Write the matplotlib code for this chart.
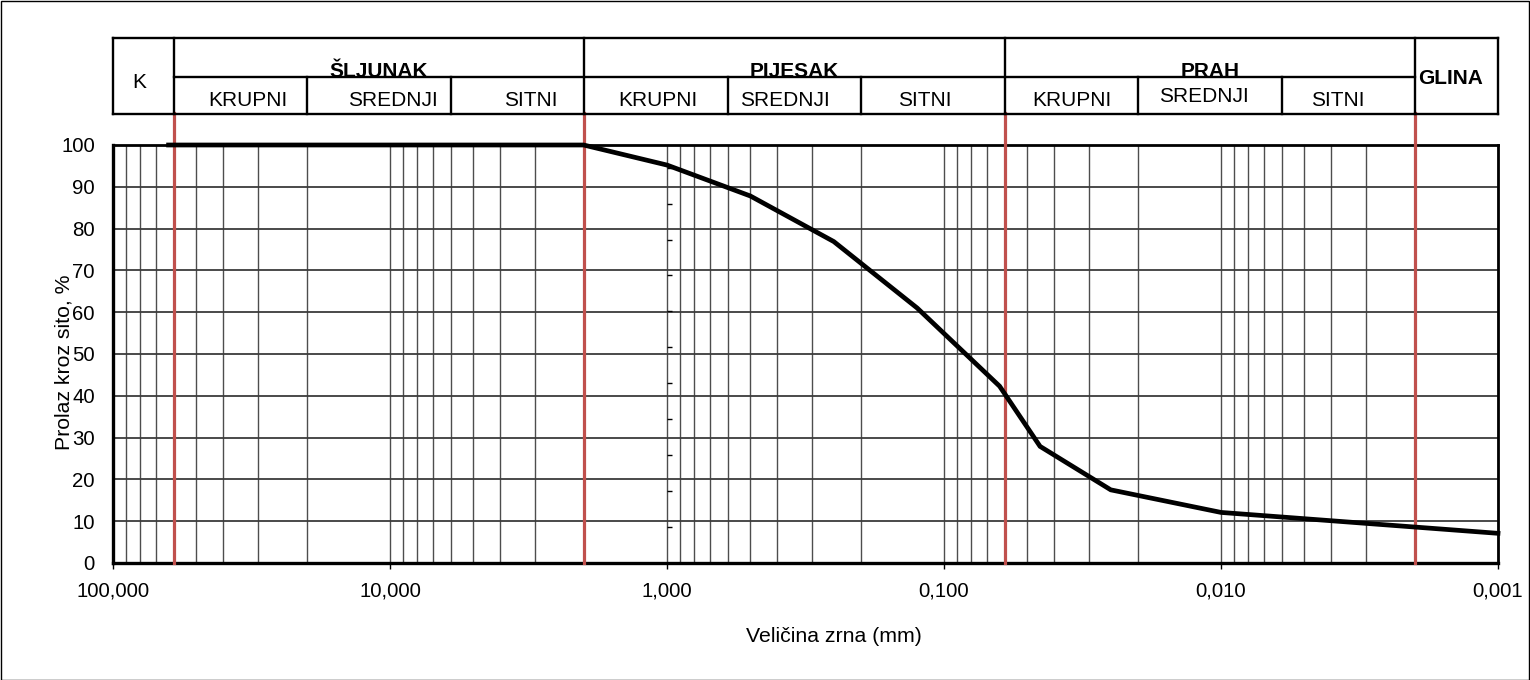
import matplotlib
matplotlib.use('Agg')
import matplotlib.pyplot as plt
import matplotlib.transforms as mtransforms
from matplotlib.patches import Rectangle
from matplotlib.ticker import FixedLocator, LogLocator, NullFormatter

plt.rcParams['font.family'] = ['Liberation Sans', 'DejaVu Sans']

# ---------------- data ----------------
grain_mm = [63, 31.5, 16, 8, 4, 2, 1, 0.5, 0.25, 0.125, 0.063, 0.045, 0.025, 0.01, 0.001]
passing = [100, 100, 100, 100, 100, 100, 95.2, 87.8, 76.9, 61.0, 42.3, 27.9, 17.5, 12.1, 7.1]

x_ticks = [100, 10, 1, 0.1, 0.01, 0.001]
x_tick_labels = ['100,000', '10,000', '1,000', '0,100', '0,010', '0,001']
y_ticks = list(range(0, 101, 10))

main_bounds = [60, 2, 0.06, 0.002]
groups = ['ŠLJUNAK', 'PIJESAK', 'PRAH']
sub_names = ['KRUPNI', 'SREDNJI', 'SITNI']
sub_bounds = [[60, 20, 6, 2], [2, 0.6, 0.2, 0.06], [0.06, 0.02, 0.006, 0.002]]
side_cells = ['K', 'GLINA']

x_label = 'Veličina zrna (mm)'
y_label = 'Prolaz kroz sito, %'

# ---------------- layout ----------------
W, H = 1530, 680
L, R, T, B = 113, 1498, 145, 563
fig = plt.figure(figsize=(W / 100, H / 100), dpi=100)
ax = fig.add_axes([L / W, 1 - B / H, (R - L) / W, (B - T) / H])


def yfrac(py):
    return (B - py) / (B - T)


FS_TICK = 14.7
FS_TAB = 15.0
FS_LAB = 15.3

ax.set_xscale('log')
ax.set_xlim(100, 0.001)
ax.set_ylim(0, 100)

ax.xaxis.set_major_locator(FixedLocator(x_ticks))
ax.set_xticklabels(x_tick_labels)
ax.xaxis.set_minor_locator(LogLocator(base=10, subs=range(2, 10), numticks=50))
ax.xaxis.set_minor_formatter(NullFormatter())
ax.set_yticks(y_ticks)

ax.tick_params(axis='x', which='major', direction='out', length=4, width=1,
               pad=9, labelsize=FS_TICK, color='black')
ax.tick_params(axis='x', which='minor', length=0)
ax.tick_params(axis='y', length=0, pad=13, labelsize=FS_TICK)

ax.grid(which='both', axis='x', color='#4d4d4d', lw=1.0, zorder=1)
ax.grid(which='major', axis='y', color='#3c3c3c', lw=1.3, zorder=1)
ax.set_axisbelow(True)

for s in ['left', 'bottom']:
    ax.spines[s].set_linewidth(2.4)
for s in ['right', 'top']:
    ax.spines[s].set_linewidth(2.0)

# secondary small ticks along the 1 mm line (Excel artefact)
ax2 = ax.twinx()
ax2.set_ylim(0, 11.63)
ax2.set_yticks(range(1, 12))
ax2.set_yticklabels([])
ax2.spines['right'].set_position(('data', 1.0))
ax2.spines['right'].set_linewidth(0)
for s in ['left', 'top', 'bottom']:
    ax2.spines[s].set_visible(False)
ax2.tick_params(axis='y', direction='out', length=3.5, width=1, color='black')

trans = mtransforms.blended_transform_factory(ax.transData, ax.transAxes)

# red boundary lines
for b in main_bounds:
    ax.plot([b, b], [0, yfrac(113)], transform=trans, clip_on=False,
            color='#c0504d', lw=2.3, zorder=3)

# data curve
ax.plot(grain_mm, passing, color='black', lw=3.4, clip_on=False, zorder=5,
        solid_joinstyle='miter')

# ---------------- header table ----------------
y_top, y_mid, y_bot = yfrac(38), yfrac(77), yfrac(114)
lk = dict(transform=trans, clip_on=False, color='black', lw=1.7, zorder=4,
          solid_capstyle='projecting')
ax.plot([100, 0.001], [y_top, y_top], **lk)
ax.plot([100, 0.001], [y_bot, y_bot], **lk)
ax.plot([main_bounds[0], main_bounds[-1]], [y_mid, y_mid], **lk)
for xv in [100] + main_bounds + [0.001]:
    ax.plot([xv, xv], [y_bot, y_top], **lk)
for sb in sub_bounds:
    for xv in sb[1:-1]:
        ax.plot([xv, xv], [y_bot, y_mid], **lk)

# group labels (bold, resting on middle line)
for g, sb in zip(groups, sub_bounds):
    xc = (sb[0] * sb[-1]) ** 0.5
    ax.text(xc, yfrac(77.5), g, transform=trans, ha='center', va='baseline',
            fontsize=FS_TAB, fontweight='bold')

# sub labels
sub_x = [[32.5, 9.8, 3.1], [1.08, 0.374, 0.117], [0.0344, 0.0115, 0.0038]]
sub_y = [[101, 101, 101], [101, 101, 101], [101, 96.5, 101]]
for xs, ys in zip(sub_x, sub_y):
    for name, xv, yv in zip(sub_names, xs, ys):
        ax.text(xv, yfrac(yv), name, transform=trans, ha='center', va='center',
                fontsize=FS_TAB)

ax.text(80.6, yfrac(83), side_cells[0], transform=trans, ha='center',
        va='center', fontsize=FS_TAB)
ax.text(0.00148, yfrac(79), side_cells[1], transform=trans, ha='center',
        va='center', fontsize=FS_TAB, fontweight='bold')

# axis labels
ax.set_xlabel(x_label, fontsize=FS_LAB)
ax.xaxis.set_label_coords((834 - L) / (R - L), yfrac(627))
ax.set_ylabel(y_label, fontsize=FS_LAB, va='center')
ax.yaxis.set_label_coords((64 - L) / (R - L), 0.48)

# outer border
fig.add_artist(Rectangle((0.5 / W, 0.5 / H), 1 - 1.5 / W, 1 - 1.5 / H,
                         transform=fig.transFigure, fill=False,
                         ec='black', lw=1.0))

fig.savefig('out.png', dpi=100)
